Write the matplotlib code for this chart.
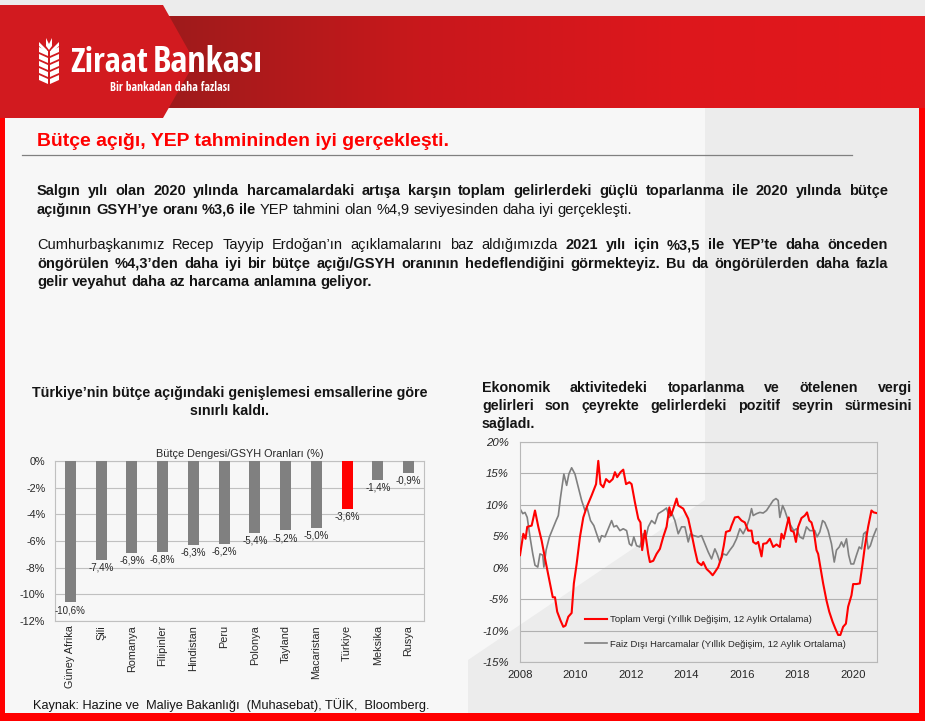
import numpy as np
import matplotlib
matplotlib.use('Agg')
import matplotlib.pyplot as plt
from matplotlib.patches import Polygon, Rectangle
from matplotlib.colors import LinearSegmentedColormap
from matplotlib import font_manager
from matplotlib.font_manager import FontProperties

# bar chart data
countries = ['Güney Afrika', 'Şili', 'Romanya', 'Filipinler', 'Hindistan', 'Peru',
             'Polonya', 'Tayland', 'Macaristan', 'Türkiye', 'Meksika', 'Rusya']
balance = [-10.6, -7.4, -6.9, -6.8, -6.3, -6.2, -5.4, -5.2, -5.0, -3.6, -1.4, -0.9]

# line chart data (years since 2008, % change)
tax_t = [0, .12, .2, .26, .42, .54, .66, .78, .94, 1.08,
         1.18, 1.26, 1.34, 1.46, 1.56, 1.64, 1.74, 1.86, 1.94, 2.04,
         2.16, 2.28, 2.4, 2.58, 2.74, 2.82, 2.9, 3.0, 3.1, 3.22,
         3.34, 3.42, 3.5, 3.62, 3.72, 3.82, 3.94, 4.02, 4.14, 4.26,
         4.34, 4.4, 4.5, 4.62, 4.68, 4.8, 4.92, 5.04, 5.16, 5.28,
         5.38, 5.44, 5.54, 5.64, 5.7, 5.88, 6.06, 6.18, 6.3, 6.4,
         6.48, 6.54, 6.6, 6.72, 6.84, 6.94, 7.02, 7.14, 7.26, 7.34,
         7.42, 7.56, 7.62, 7.74, 7.86, 7.98, 8.1, 8.22, 8.34, 8.4,
         8.5, 8.58, 8.7, 8.76, 8.88, 9.0, 9.12, 9.24, 9.36, 9.42,
         9.5, 9.6, 9.68, 9.76, 9.86, 9.94, 10.02, 10.14, 10.26, 10.34,
         10.42, 10.5, 10.58, 10.68, 10.74, 10.82, 10.92, 11.04, 11.14, 11.26,
         11.36, 11.46, 11.54, 11.64, 11.74, 11.82, 11.94, 12.0, 12.12, 12.24,
         12.34, 12.42, 12.54, 12.66, 12.74, 12.84]
tax = [2.0, 5.4, 4.6, 6.5, 6.7, 9.1, 6.5, 4.3, 0.6, -2.5,
       -4.7, -4.7, -7.0, -8.4, -9.4, -9.2, -7.8, -7.2, -2.5, 0.6,
       4.9, 8.0, 9.6, 11.5, 13.3, 17.0, 13.3, 12.8, 14.1, 13.6,
       14.1, 15.2, 14.4, 15.2, 15.6, 13.3, 13.6, 13.3, 10.4, 7.8,
       7.2, 2.8, 5.9, 2.2, 0.9, 1.1, 2.2, 3.0, 4.9, 6.5,
       9.6, 8.3, 9.6, 11.0, 9.9, 9.4, 7.8, 5.4, 2.8, 0.9,
       0.6, 0.4, 0.9, -0.2, -0.7, -1.2, -0.7, 0.1, 1.7, 3.5,
       5.7, 5.9, 6.7, 8.0, 8.1, 7.5, 7.2, 5.9, 5.9, 4.1,
       3.8, 4.1, 1.8, 3.8, 3.9, 4.6, 3.3, 3.7, 3.3, 5.4,
       4.6, 6.5, 8.0, 5.9, 5.7, 4.1, 6.5, 7.9, 8.3, 8.8,
       7.5, 7.2, 5.9, 2.8, 2.2, 0.1, -2.5, -5.2, -7.0, -8.6,
       -9.7, -10.7, -10.7, -9.4, -8.9, -6.2, -4.4, -2.6, -2.6, -2.5,
       0.6, 3.3, 6.5, 9.1, 8.8, 8.7]

spend_t = [0, .1, .18, .26, .36, .46, .54, .64, .72, .82,
           .86, .94, 1.06, 1.18, 1.3, 1.38, 1.46, 1.58, 1.68, 1.76,
           1.86, 1.98, 2.1, 2.22, 2.34, 2.42, 2.54, 2.66, 2.76, 2.86,
           2.94, 3.06, 3.18, 3.3, 3.38, 3.48, 3.6, 3.72, 3.84, 3.94,
           4.02, 4.1, 4.2, 4.32, 4.44, 4.54, 4.62, 4.74, 4.86, 4.98,
           5.16, 5.28, 5.38, 5.46, 5.58, 5.7, 5.82, 5.94, 6.06, 6.14,
           6.26, 6.42, 6.54, 6.66, 6.78, 6.9, 7.02, 7.1, 7.2, 7.32,
           7.44, 7.56, 7.68, 7.8, 7.92, 8.04, 8.16, 8.26, 8.34, 8.4,
           8.52, 8.64, 8.76, 8.88, 9.0, 9.12, 9.22, 9.3, 9.36, 9.46,
           9.54, 9.66, 9.78, 9.86, 9.96, 10.08, 10.2, 10.32, 10.44, 10.62,
           10.7, 10.8, 10.9, 10.98, 11.1, 11.22, 11.32, 11.4, 11.5, 11.58,
           11.66, 11.76, 11.84, 11.92, 12.02, 12.12, 12.22, 12.3, 12.38, 12.46,
           12.54, 12.62, 12.72, 12.84]
spend = [9.4, 8.6, 8.8, 8.0, 4.9, 2.2, 0.4, 0.1, 2.2, 2.0,
         0.1, 2.8, 4.9, 6.2, 7.5, 8.3, 11.2, 14.9, 13.1, 14.9,
         15.9, 14.9, 12.8, 10.7, 9.1, 9.5, 7.5, 6.7, 5.4, 4.1,
         5.1, 4.9, 6.2, 7.5, 6.5, 6.7, 5.9, 6.2, 5.9, 3.8,
         3.5, 4.9, 3.5, 3.3, 5.4, 4.9, 6.5, 7.5, 7.0, 8.6,
         9.1, 9.5, 8.0, 8.8, 7.5, 5.4, 6.5, 6.5, 4.1, 5.4,
         5.1, 4.9, 5.1, 3.8, 2.5, 1.4, 3.0, 2.2, 0.9, 2.2,
         2.0, 2.8, 3.5, 4.6, 6.2, 5.4, 6.5, 7.8, 9.4, 8.3,
         8.6, 8.8, 8.7, 9.1, 9.9, 10.7, 11.0, 10.7, 8.0, 9.9,
         9.1, 7.5, 6.5, 5.9, 6.2, 4.9, 4.6, 6.5, 5.9, 5.9,
         4.9, 5.7, 7.5, 7.2, 5.9, 3.8, 0.9, 2.8, 3.3, 4.1,
         3.3, 4.6, 2.0, 0.6, 0.6, 2.0, 3.3, 3.0, 5.4, 5.7,
         3.0, 3.5, 4.9, 6.2]

year_ticks = [2008, 2010, 2012, 2014, 2016, 2018, 2020]
pct_ticks = [-15, -10, -5, 0, 5, 10, 15, 20]
bar_ticks = [-12, -10, -8, -6, -4, -2, 0]

title = 'Bütçe açığı, YEP tahmininden iyi gerçekleşti.'
para = [
    [('Salgın yılı olan 2020 yılında harcamalardaki artışa karşın toplam gelirlerdeki güçlü toparlanma ile 2020 yılında bütçe', True)],
    [('açığının GSYH’ye oranı %3,6 ile', True), ('YEP tahmini olan %4,9 seviyesinden daha iyi gerçekleşti.', False)],
    [('Cumhurbaşkanımız Recep Tayyip Erdoğan’ın açıklamalarını baz aldığımızda', False), ('2021 yılı için %3,5 ile YEP’te daha önceden', True)],
    [('öngörülen %4,3’den daha iyi bir bütçe açığı/GSYH oranının hedeflendiğini görmekteyiz. Bu da öngörülerden daha fazla', True)],
    [('gelir veyahut daha az harcama anlamına geliyor.', True)],
]
bar_title = ['Türkiye’nin bütçe açığındaki genişlemesi emsallerine göre', 'sınırlı kaldı.']
line_title = ['Ekonomik aktivitedeki toparlanma ve ötelenen vergi',
              'gelirleri son çeyrekte gelirlerdeki pozitif seyrin sürmesini',
              'sağladı.']
source = 'Kaynak: Hazine ve  Maliye Bakanlığı  (Muhasebat), TÜİK,  Bloomberg.'

SANS = 'Liberation Sans'


# narrow face for the logo lettering
def find_narrow():
    cands = []
    for f in font_manager.fontManager.ttflist:
        nm = f.name.lower()
        st = f.stretch
        cond = ('narrow' in nm or 'condensed' in nm or
                (isinstance(st, str) and 'condensed' in st) or
                (isinstance(st, (int, float)) and st < 500))
        if cond:
            cands.append((f.name, st))
    for pref in ['liberation sans narrow', 'arial narrow', 'noto sans', 'open sans',
                 'roboto', 'dejavu sans', 'lato', 'inter']:
        for nm, st in cands:
            if nm.lower().startswith(pref) and 'mono' not in nm.lower():
                return nm, st
    return None


narrow = find_narrow()


def nprops(size, bold=False):
    if narrow:
        return FontProperties(family=narrow[0], stretch=narrow[1], size=size,
                              weight='bold' if bold else 'normal')
    return FontProperties(family=SANS, size=size, weight='bold' if bold else 'normal')


def sprops(size, bold=False):
    return FontProperties(family=SANS, size=size, weight='bold' if bold else 'normal')


W, H = 925, 721
fig = plt.figure(figsize=(W / 100, H / 100), dpi=100)
fig.patch.set_facecolor('#ececec')
bg = fig.add_axes([0, 0, 1, 1])
bg.axis('off')
rend = fig.canvas.get_renderer()

# background panels
bg.add_patch(Polygon([(5, 108), (705, 108), (705, 500), (468, 660), (468, 713), (5, 713)],
                     closed=True, color='#f7f7f7', lw=0))

# header band
grad = np.linspace(0, 1, 256)[None, :]
band_cmap = LinearSegmentedColormap.from_list('band', ['#9e1b1b', '#c8181c', '#dd171c', '#e3181c'])
bg.imshow(grad, cmap=band_cmap, extent=(165, 925, 108, 16), aspect='auto', zorder=1)
bg.add_patch(Polygon([(0, 5), (163, 5), (195, 62), (163, 118), (0, 118)], closed=True,
                     color='#d21a1f', lw=0, zorder=2))

# red frame
bg.add_patch(Rectangle((0, 118), 5, 600, color='#ff0000', lw=0, zorder=3))
bg.add_patch(Rectangle((919, 108), 6, 613, color='#ff0000', lw=0, zorder=3))
bg.add_patch(Rectangle((0, 713), 925, 8, color='#ff0000', lw=0, zorder=3))

# logo: wheat icon
for i in range(5):
    y = 47 + i * 7
    bg.add_patch(Polygon([(39, y), (48, y + 4), (48, y + 9), (39, y + 5)], closed=True,
                         color='white', lw=0, zorder=4))
    bg.add_patch(Polygon([(59, y), (50, y + 4), (50, y + 9), (59, y + 5)], closed=True,
                         color='white', lw=0, zorder=4))
bg.add_patch(Polygon([(46, 38), (49, 44), (49, 50), (46, 46)], closed=True, color='white', lw=0, zorder=4))
bg.add_patch(Polygon([(52, 38), (49, 44), (49, 50), (52, 46)], closed=True, color='white', lw=0, zorder=4))
bg.add_patch(Polygon([(39, 42), (47, 50), (47, 53), (39, 46)], closed=True, color='white', lw=0, zorder=4))
bg.add_patch(Polygon([(59, 42), (51, 50), (51, 53), (59, 46)], closed=True, color='white', lw=0, zorder=4))


def fit_text(x, y, s, width, fp, **kw):
    t = bg.text(x, y, s, fontproperties=fp, **kw)
    w = t.get_window_extent(rend).width
    t.set_fontsize(fp.get_size() * width / w)
    return t


fit_text(70, 72, 'Ziraat', 78, nprops(24, True), color='white', va='baseline', zorder=5)
fit_text(153, 72, 'Bankası', 110, nprops(24), color='white', va='baseline', zorder=5)
fit_text(110, 91, 'Bir bankadan daha fazlası', 118, nprops(7), color='white',
         va='baseline', zorder=5)

bg.set_xlim(0, W)
bg.set_ylim(H, 0)

# title + rule
fit_text(37, 146, title, 413, sprops(14, True), color='#ff0000', va='baseline')
bg.plot([22, 852], [155, 155], color='#808080', lw=0.9)


def text_line(segs, x0, y, fpfun, size, x1=None, color='#141414'):
    words = []
    for s, bold in segs:
        for w in s.split():
            words.append((w, bold))
    arts = [bg.text(0, y, w, fontproperties=fpfun(size, b), va='baseline', ha='left',
                    color=color) for w, b in words]
    widths = [a.get_window_extent(rend).width for a in arts]
    gap = arts[0].get_fontsize() * 100 / 72 * 0.278
    if x1 is not None and len(arts) > 1:
        gap = (x1 - x0 - sum(widths)) / (len(arts) - 1)
    x = x0
    for a, w in zip(arts, widths):
        a.set_x(x)
        x += w + gap


para_y = [195, 214, 249, 268, 286]
para_just = [True, False, True, True, False]
for segs, y, j in zip(para, para_y, para_just):
    text_line(segs, 37, y, sprops, 10.5, x1=888 if j else None)

# section titles
for s, y in zip(bar_title, [397, 415]):
    bg.text(230, y, s, fontproperties=sprops(10.3, True), ha='center', va='baseline',
            color='#141414')
text_line([(line_title[0], True)], 482, 392, sprops, 10.3, x1=912)
text_line([(line_title[1], True)], 482, 410, sprops, 10.3, x1=912)
text_line([(line_title[2], True)], 482, 428, sprops, 10.3)
bg.text(33, 709, source, fontsize=9.2, family=SANS, va='baseline', color='#141414')

# bar chart
axb = fig.add_axes([55 / W, (H - 621) / H, 369 / W, 160 / H])
axb.set_facecolor('none')
colors = ['#ff0000' if c == 'Türkiye' else '#808080' for c in countries]
pos = np.arange(len(countries))
axb.bar(pos, balance, width=0.36, color=colors, zorder=3)
for x, v in zip(pos, balance):
    axb.annotate(f'{v:.1f}%'.replace('.', ','), (x, v), xytext=(0, -2), textcoords='offset points',
                 ha='center', va='top', fontsize=7, family=SANS, color='#262626', zorder=4)
axb.set_xlim(-0.5, len(countries) - 0.5)
axb.set_ylim(-12, 0)
axb.set_yticks(bar_ticks)
axb.set_yticklabels([f'{v}%' for v in bar_ticks], fontsize=7.8, family=SANS, color='#262626')
axb.set_xticks(pos)
axb.set_xticklabels(countries, rotation=90, fontsize=7.8, family=SANS, color='#262626')
axb.tick_params(length=0, axis='y', pad=7)
axb.tick_params(length=0, axis='x', pad=3)
axb.yaxis.grid(True, color='#c0c0c0', lw=0.8, zorder=0)
for sp in axb.spines.values():
    sp.set_color('#c0c0c0')
    sp.set_linewidth(0.8)
axb.set_title('Bütçe Dengesi/GSYH Oranları (%)', fontsize=7.8, family=SANS, color='#262626', pad=3)

# line chart
axl = fig.add_axes([520 / W, (H - 662) / H, 357 / W, 220 / H])
axl.set_facecolor('none')
axl.plot(2008 + np.array(tax_t), tax, color='#ff0000', lw=1.5,
         label='Toplam Vergi (Yıllık Değişim, 12 Aylık Ortalama)', zorder=3)
axl.plot(2008 + np.array(spend_t), spend, color='#808080', lw=1.2,
         label='Faiz Dışı Harcamalar (Yıllık Değişim, 12 Aylık Ortalama)', zorder=2)
axl.set_xlim(2008, 2020.86)
axl.set_ylim(-15, 20)
axl.set_yticks(pct_ticks)
axl.set_yticklabels([f'{v}%' for v in pct_ticks], fontsize=8.2, family=SANS, style='italic',
                    color='#262626')
axl.set_xticks(year_ticks)
axl.set_xticklabels([str(v) for v in year_ticks], fontsize=8.2, family=SANS, color='#262626')
axl.tick_params(length=0, axis='y', pad=8)
axl.tick_params(length=0, axis='x', pad=6)
axl.yaxis.grid(True, color='#b0b0b0', lw=0.8, zorder=0)
for sp in axl.spines.values():
    sp.set_color('#b8b8b8')
    sp.set_linewidth(0.8)
axl.legend(loc='lower left', bbox_to_anchor=(0.183, 0.06), frameon=False, borderpad=0,
           borderaxespad=0, prop={'family': SANS, 'size': 6.8}, handlelength=2.3,
           handletextpad=0.3, labelspacing=1.65, labelcolor='#262626')

fig.savefig('out.png', dpi=100, facecolor=fig.get_facecolor())
